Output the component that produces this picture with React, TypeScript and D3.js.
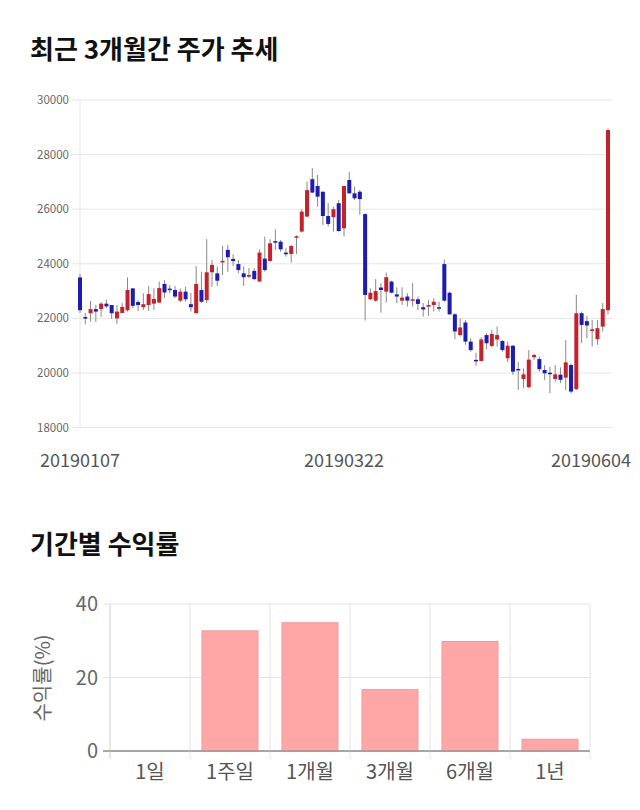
import React from "react";
import * as d3 from "d3";

const opens = [23500,22050,22190,22340,22340,22540,22490,22000,22200,22300,23100,22600,22410,22490,22540,22580,23260,23090,23040,22650,22980,22520,22190,23040,22670,23690,23650,24050,24510,24180,23990,23650,23530,23740,23350,24190,24100,24830,24810,24410,24360,24980,25180,25730,27100,26850,26640,25750,25710,26220,25300,27070,26580,26640,25820,22700,22650,23130,22980,23350,22880,22650,22800,22650,22700,22410,22430,22490,22410,23990,22940,22150,21390,21850,21150,20480,20440,21390,20990,21230,21170,20540,21000,20150,19780,19480,20580,20510,20110,20010,19780,19940,19830,20290,19410,22190,21900,21540,21240,21700,22300];
const highs = [23630,22200,22640,22490,22600,22690,22490,22490,22560,23500,23100,22670,22920,23190,23100,23350,23400,23220,23190,23100,23160,22930,23920,23710,24900,24140,23900,24660,24690,24350,24140,23900,23840,23840,24530,25000,24900,25260,24870,24570,24690,25040,26000,27010,27500,27250,26640,26220,26090,26340,26850,27370,26830,26700,25850,23100,23440,23290,23680,23380,23140,23140,22920,23290,22800,22560,22670,22730,22610,24160,22980,22190,22000,21940,21270,20740,21310,21450,21580,21700,21210,21150,21020,20410,20170,20840,20700,20600,20290,20230,20290,20210,21210,20350,22860,22250,22090,21940,21940,22560,28950];
const lows = [22200,21780,21880,21870,22060,22370,21985,21800,22190,22250,22370,22270,22310,22270,22310,22560,22750,22920,22740,22600,22610,22250,22190,22560,22560,23160,23190,23590,23710,23920,23650,23190,23470,23400,23350,23710,24100,24510,24440,24260,24040,24360,25150,25710,26580,26090,25420,25360,25180,25180,25000,26580,26340,25790,21920,22670,22610,22210,22580,22920,22560,22490,22430,22430,22310,22070,22090,22250,22250,22610,22130,21240,21330,21030,20780,20260,20420,20870,20940,20970,20780,20400,19930,19380,19440,19440,20480,20050,19740,19260,19680,19630,19380,19260,19380,21090,21270,20970,21030,21520,22150];
const closes = [22300,22000,22340,22250,22540,22440,22190,22250,22420,23040,22460,22490,22520,22890,22710,23110,22950,23040,22800,22980,22700,22410,23260,22610,23690,23960,23380,24110,24240,24100,23770,23510,23590,23440,24410,23770,24750,24790,24530,24350,24650,25010,25910,26700,26610,26460,25750,25460,26000,25200,26850,26580,26400,26370,22860,22940,23000,23040,23510,22940,22800,22760,22650,22700,22530,22330,22490,22610,22370,22650,22150,21520,21670,21150,20840,20440,21230,21090,21430,21390,20840,21000,20050,20110,19950,20490,20660,20140,19990,19980,19950,19750,20390,19320,22190,21760,21740,21600,21640,22340,28900];

const priceTicks = [18000, 20000, 22000, 24000, 26000, 28000, 30000];
const dateTickIdx = [0, 50, 100];
const dateTickLabels = ["20190107", "20190322", "20190604"];

const periods = ["1일", "1주일", "1개월", "3개월", "6개월", "1년"];
const returns = [0, 32.7, 34.9, 16.7, 29.8, 3.2];
const returnTicks = [0, 20, 40];

const FONT = "'Noto Sans CJK KR', 'Noto Sans', sans-serif";
const RED = "#c4222a";
const BLUE = "#1c1cb0";

export default function App() {
  const x = d3.scaleLinear().domain([0, 100]).range([80, 608]);
  const y = d3.scaleLinear().domain([18000, 30000]).range([427.6, 100]);
  const bw = 4;

  const bx = d3.scaleBand<string>().domain(periods).range([110, 590]).padding(0);
  const by = d3.scaleLinear().domain([0, 40]).range([751, 604]);
  const barW = bx.bandwidth() * 0.7;

  return (
    <svg width={640} height={810} style={{ position: "absolute", left: 0, top: 0, background: "#fff" }} fontFamily={FONT}>
      <text x={30} y={59} fontSize={26} fontWeight="bold" fill="#111">최근 3개월간 주가 추세</text>

      {priceTicks.map((t) => (
        <g key={t}>
          <line x1={72} x2={612} y1={y(t)} y2={y(t)} stroke="#e6e6e6" strokeWidth={1} />
          <text x={69} y={y(t) + 4} fontSize={11.5} fill="#666" textAnchor="end">{t}</text>
        </g>
      ))}
      <line x1={80} x2={80} y1={100} y2={428} stroke="#e6e6e6" strokeWidth={1} />

      {opens.map((o, i) => {
        const c = closes[i];
        const up = c >= o;
        const col = up ? RED : BLUE;
        const top = y(Math.max(o, c));
        const bot = y(Math.min(o, c));
        return (
          <g key={i}>
            <line x1={x(i)} x2={x(i)} y1={y(highs[i])} y2={y(lows[i])} stroke="#888" strokeWidth={1} />
            <rect x={x(i) - bw / 2} y={top} width={bw} height={Math.max(1.5, bot - top)} fill={col} />
          </g>
        );
      })}

      {dateTickIdx.map((idx, k) => {
        const last = k === dateTickIdx.length - 1;
        return (
          <text key={idx} x={last ? 631 : x(idx)} y={467} fontSize={18} fill="#555" textAnchor={last ? "end" : "middle"}>
            {dateTickLabels[k]}
          </text>
        );
      })}

      <text x={30} y={554} fontSize={26} fontWeight="bold" fill="#111">기간별 수익률</text>

      {returnTicks.map((t) => (
        <g key={t}>
          <line x1={103} x2={590} y1={by(t)} y2={by(t)} stroke={t === 0 ? "#888" : "#e3e3e3"} strokeWidth={1} />
          <text x={98} y={by(t) + 7} fontSize={20} fill="#666" textAnchor="end">{t}</text>
        </g>
      ))}
      {periods.map((p) => (
        <line key={p} x1={bx(p) as number} x2={bx(p) as number} y1={604} y2={759} stroke="#e3e3e3" strokeWidth={1} />
      ))}
      <line x1={590} x2={590} y1={604} y2={759} stroke="#e3e3e3" strokeWidth={1} />
      <line x1={110} x2={110} y1={604} y2={759} stroke="#ddd" strokeWidth={1} />

      {periods.map((p, i) => {
        const cx = (bx(p) as number) + bx.bandwidth() / 2;
        return (
          <g key={p}>
            {returns[i] > 0 && (
              <rect x={cx - barW / 2} y={by(returns[i])} width={barW} height={by(0) - by(returns[i])} fill="#ffa6a6" stroke="#eb9c9c" strokeWidth={1} />
            )}
            <text x={cx} y={779} fontSize={20} fill="#555" textAnchor="middle">{p}</text>
          </g>
        );
      })}
      <line x1={103} x2={590} y1={by(0)} y2={by(0)} stroke="#888" strokeWidth={1} />

      <text transform={`translate(50,678) rotate(-90)`} fontSize={20} fill="#666" textAnchor="middle">수익률(%)</text>
    </svg>
  );
}
